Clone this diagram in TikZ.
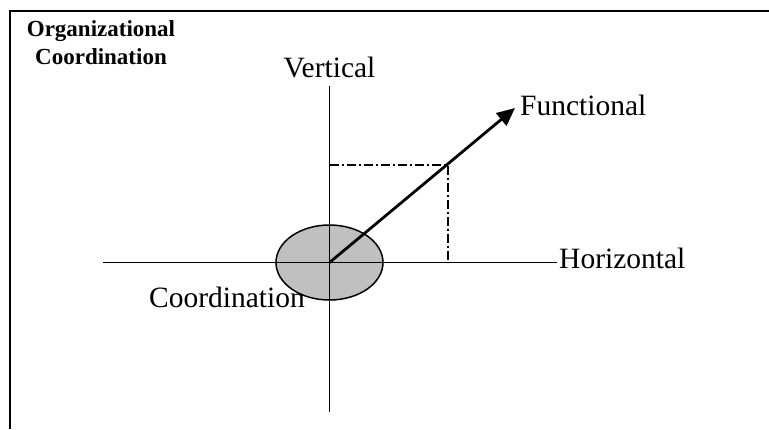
\documentclass[tikz,border=0pt]{standalone}
\usepackage{fontspec}
\setmainfont{Liberation Serif}
\usetikzlibrary{arrows.meta,shapes.geometric}
\begin{document}
\begin{tikzpicture}[x=1pt,y=-1pt,
  axisline/.style={line width=1.8pt},
  frameline/.style={line width=2.2pt},
  guide/.style={line width=1.5pt,dash pattern=on 9pt off 3pt on 2pt off 3pt},
  lbl/.style={inner sep=0pt,font=\fontsize{29.5}{34}\selectfont},
  title/.style={inner sep=0pt,align=center,font=\fontsize{23}{28}\selectfont\bfseries}]
\useasboundingbox (0,0) rectangle (769,429);
% frame
\coordinate (fbl) at (10,429);
\coordinate (ftl) at (10,11);
\coordinate (ftr) at (769,11);
\draw[frameline] (fbl) -- (ftl) -- (ftr);
% title
\node[title,anchor=north] (title) at (101,20) {Organizational\\Coordination};
% centre
\coordinate (O) at (329.5,262.5);
\node[ellipse,draw=black,line width=1.5pt,fill={rgb,255:red,192;green,192;blue,192},
  minimum width=107pt,minimum height=75pt,inner sep=0pt] (ell) at (O) {};
% axes
\coordinate (vtop) at (329.5,86);
\coordinate (vbot) at (329.5,412);
\coordinate (hl) at (103,262.5);
\coordinate (hr) at (557,262.5);
\draw[axisline] (vtop) -- (vbot);
\draw[axisline] (hl) -- (hr);
% guide rectangle
\coordinate (gtl) at (329.5,165);
\coordinate (gtr) at (448,165);
\coordinate (gbr) at (448,262.5);
\draw[guide] (gtl) -- (gtr) -- (gbr);
% arrow
\coordinate (tip) at (515,108);
\draw[line width=2.8pt,-{Triangle[length=18pt,width=16pt]}] (O) -- (tip);
% labels
\node[lbl,anchor=base] (vert) at (329.5,77) {Vertical};
\node[lbl,anchor=base west] (func) at (520,115) {Functional};
\node[lbl,anchor=base west] (horiz) at (559,268) {Horizontal};
\node[lbl,anchor=base west] (coord) at (149,307) {Coordination};
\end{tikzpicture}
\end{document}
